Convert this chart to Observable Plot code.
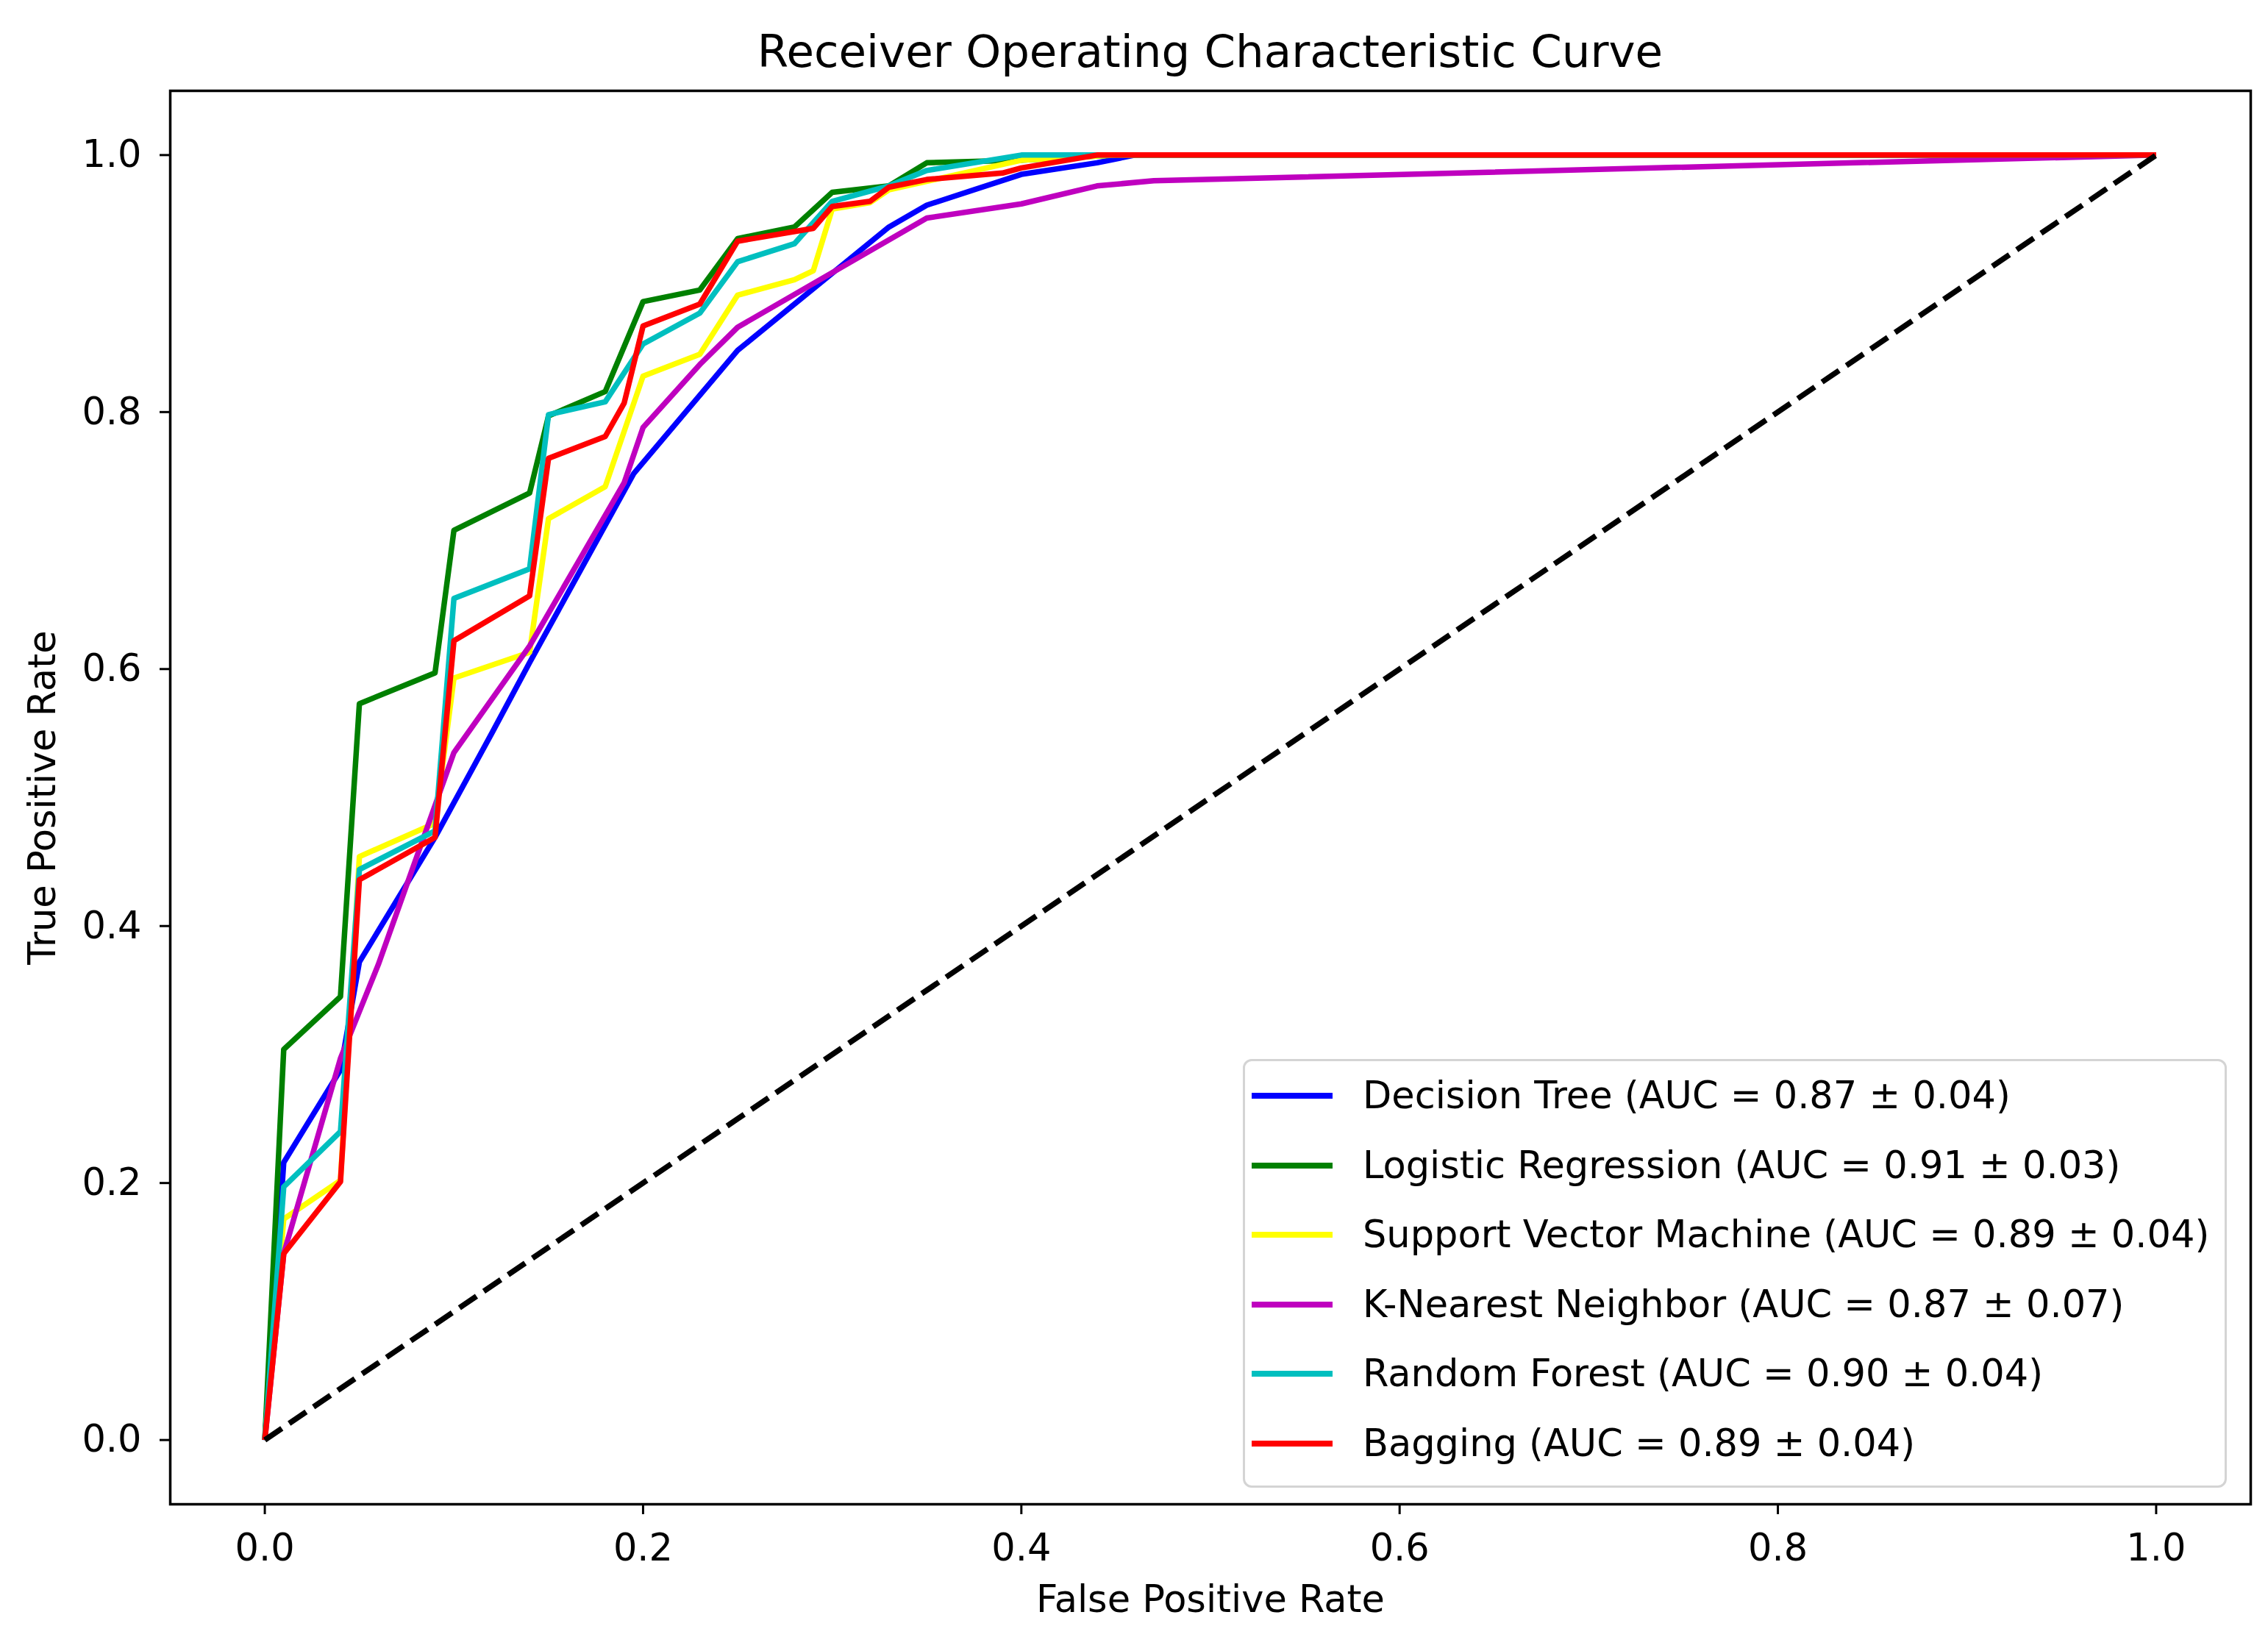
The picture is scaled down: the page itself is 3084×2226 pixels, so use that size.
<!DOCTYPE html>
<html>
<head>
<meta charset="utf-8">
<script src="https://cdn.jsdelivr.net/npm/d3@7"></script>
<script src="https://cdn.jsdelivr.net/npm/@observablehq/plot@0.6"></script>
<style>
  html, body { margin: 0; padding: 0; background: #ffffff; }
  body { width: 3084px; height: 2226px; overflow: hidden; font-family: "DejaVu Sans", sans-serif; }
  #title { height: 110px; margin-left: 231px; width: 2829px; text-align: center; font-size: 61px; line-height: 61px; padding-top: 39px; box-sizing: border-box; color: #000; white-space: nowrap; }
  #wrap { position: relative; width: 3084px; }
  #legend { position: absolute; left: 1690px; top: 1330px; width: 1338px; height: 583px; box-sizing: border-box; border: 3px solid #d4d4d4; border-radius: 12px; background: rgba(255,255,255,0.8); }
  .row { position: absolute; left: 0; height: 60px; width: 100%; }
  .sw { position: absolute; left: 9px; top: 26px; width: 110px; height: 8px; }
  .lt { position: absolute; left: 160px; top: 0; height: 60px; line-height: 60px; font-size: 51px; color: #000; white-space: nowrap; }
</style>
</head>
<body>
<div id="title">Receiver Operating Characteristic Curve</div>
<div id="wrap"><div id="chart"></div><div id="legend"></div></div>
<script>
// ---- Data ----
const modelNames = [
  "Decision Tree (AUC = 0.87 ± 0.04)",
  "Logistic Regression (AUC = 0.91 ± 0.03)",
  "Support Vector Machine (AUC = 0.89 ± 0.04)",
  "K-Nearest Neighbor (AUC = 0.87 ± 0.07)",
  "Random Forest (AUC = 0.90 ± 0.04)",
  "Bagging (AUC = 0.89 ± 0.04)"
];
const modelColors = ["#0000ff", "#008000", "#ffff00", "#bf00bf", "#00bfbf", "#ff0000"];

const dtFpr = [0, 0.01, 0.04, 0.05, 0.09, 0.12, 0.14, 0.195, 0.25, 0.30, 0.33, 0.35, 0.40, 0.44, 0.46, 1.0];
const dtTpr = [0, 0.216, 0.288, 0.372, 0.469, 0.55, 0.605, 0.752, 0.848, 0.908, 0.944, 0.961, 0.985, 0.994, 1.0, 1.0];

const lrFpr = [0, 0.01, 0.04, 0.05, 0.09, 0.10, 0.14, 0.15, 0.18, 0.20, 0.23, 0.25, 0.28, 0.30, 0.33, 0.35, 0.40, 0.45, 1.0];
const lrTpr = [0, 0.304, 0.345, 0.573, 0.597, 0.708, 0.737, 0.797, 0.816, 0.886, 0.895, 0.935, 0.944, 0.971, 0.976, 0.994, 0.996, 1.0, 1.0];

const svmFpr = [0, 0.01, 0.04, 0.05, 0.09, 0.10, 0.14, 0.15, 0.18, 0.20, 0.23, 0.25, 0.28, 0.29, 0.30, 0.32, 0.33, 0.40, 0.45, 1.0];
const svmTpr = [0, 0.172, 0.202, 0.454, 0.48, 0.593, 0.613, 0.717, 0.742, 0.828, 0.845, 0.891, 0.903, 0.91, 0.958, 0.963, 0.973, 0.996, 1.0, 1.0];

const knnFpr = [0, 0.01, 0.04, 0.06, 0.10, 0.14, 0.19, 0.20, 0.23, 0.25, 0.35, 0.40, 0.44, 0.47, 1.0];
const knnTpr = [0, 0.145, 0.297, 0.37, 0.535, 0.618, 0.745, 0.788, 0.837, 0.866, 0.951, 0.962, 0.976, 0.98, 1.0];

const rfFpr = [0, 0.01, 0.04, 0.05, 0.09, 0.10, 0.14, 0.15, 0.18, 0.20, 0.23, 0.25, 0.28, 0.30, 0.33, 0.35, 0.40, 1.0];
const rfTpr = [0, 0.197, 0.24, 0.444, 0.474, 0.655, 0.678, 0.798, 0.808, 0.853, 0.877, 0.917, 0.931, 0.964, 0.976, 0.988, 1.0, 1.0];

const bagFpr = [0, 0.01, 0.04, 0.05, 0.09, 0.10, 0.14, 0.15, 0.18, 0.19, 0.20, 0.23, 0.25, 0.29, 0.30, 0.32, 0.33, 0.35, 0.39, 0.40, 0.44, 1.0];
const bagTpr = [0, 0.145, 0.201, 0.436, 0.469, 0.622, 0.657, 0.764, 0.781, 0.807, 0.867, 0.884, 0.933, 0.943, 0.960, 0.964, 0.975, 0.981, 0.986, 0.990, 1.0, 1.0];

const chanceFpr = [0, 1];
const chanceTpr = [0, 1];

const xTicks = [0, 0.2, 0.4, 0.6, 0.8, 1.0];
const yTicks = [0, 0.2, 0.4, 0.6, 0.8, 1.0];

// ---- Build table ----
const seriesFpr = [dtFpr, lrFpr, svmFpr, knnFpr, rfFpr, bagFpr];
const seriesTpr = [dtTpr, lrTpr, svmTpr, knnTpr, rfTpr, bagTpr];
const rows = modelNames.flatMap((name, k) =>
  seriesFpr[k].map((x, i) => ({model: name, fpr: x, tpr: seriesTpr[k][i]})));
const chance = chanceFpr.map((x, i) => ({fpr: x, tpr: chanceTpr[i]}));

const W = 3084, H = 2116;
const fmt = d3.format(".1f");

const plot = Plot.plot({
  width: W,
  height: H,
  marginLeft: 231,
  marginRight: 24,
  marginTop: 13,
  marginBottom: 181,
  style: {fontFamily: "DejaVu Sans", fontSize: "51px", background: "#ffffff", color: "#000", overflow: "visible"},
  x: {domain: [-0.05, 1.05]},
  y: {domain: [-0.05, 1.05]},
  color: {domain: modelNames, range: modelColors},
  marks: [
    Plot.line(rows, {x: "fpr", y: "tpr", z: "model", stroke: "model", strokeWidth: 7.5, strokeLinejoin: "round", strokeLinecap: "butt"}),
    Plot.line(chance, {x: "fpr", y: "tpr", stroke: "#000000", strokeWidth: 7.5, strokeDasharray: "28,12", strokeLinecap: "butt"}),
    Plot.frame({stroke: "#000000", strokeWidth: 3.5}),
    Plot.axisX({ticks: xTicks, tickFormat: fmt, tickSize: 14, tickPadding: 26, strokeWidth: 3, fontSize: 51, label: null}),
    Plot.axisY({ticks: yTicks, tickFormat: fmt, tickSize: 14, tickPadding: 25, strokeWidth: 3, fontSize: 51, label: null}),
    Plot.text(["False Positive Rate"], {frameAnchor: "bottom", dy: 130, lineAnchor: "middle", textAnchor: "middle", fontSize: 51, fill: "#000"}),
    Plot.text(["True Positive Rate"], {frameAnchor: "left", dx: -173, rotate: -90, lineAnchor: "middle", textAnchor: "middle", fontSize: 51, fill: "#000"})
  ]
});
document.getElementById("chart").appendChild(plot);

// ---- Legend ----
const legend = document.getElementById("legend");
modelNames.forEach((name, i) => {
  const r = document.createElement("div");
  r.className = "row";
  r.style.top = (50 - 3 - 30 + i * 94.6) + "px";
  const sw = document.createElement("div");
  sw.className = "sw";
  sw.style.background = modelColors[i];
  const t = document.createElement("div");
  t.className = "lt";
  t.textContent = name;
  r.appendChild(sw); r.appendChild(t);
  legend.appendChild(r);
});
</script>
</body>
</html>
